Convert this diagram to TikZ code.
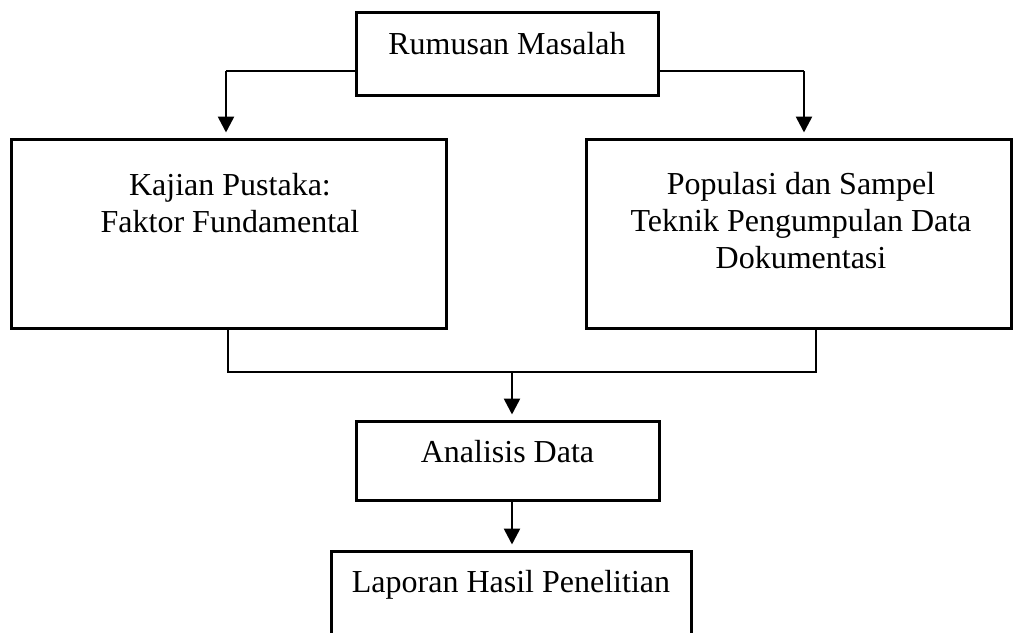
\documentclass[tikz,border=0pt]{standalone}
\usepackage{fontspec}
\setmainfont{Liberation Serif}
\usetikzlibrary{arrows.meta}

\begin{document}
\begin{tikzpicture}[x=0.5pt,y=-0.5pt,
	box/.style={draw,line width=1.5pt,rectangle,inner sep=0pt},
	txt/.style={font=\fontsize{16}{18.5}\selectfont,align=center,inner sep=0pt,anchor=base},
	link/.style={line width=0.7pt},
	arr/.style={line width=1.3pt,-{Triangle[length=8pt,width=8pt]},shorten >=2.5pt}]

	\path[use as bounding box,clip] (0,0) rectangle (1014,633);

	\node[box,minimum width=151pt,minimum height=41.5pt] (rumusan) at (507,53.5) {};
	\node[box,minimum width=217.5pt,minimum height=94.5pt] (kajian) at (228.5,233.5) {};
	\node[box,minimum width=212.5pt,minimum height=94.5pt] (populasi) at (798.5,233.5) {};
	\node[box,minimum width=151.5pt,minimum height=39.5pt] (analisis) at (507.5,460.5) {};
	\node[box,minimum width=180pt,minimum height=50pt] (laporan) at (511,601) {};

	% base of a multi-line node is its last line
	\node[txt] (rumusan-txt) at (507,54) {Rumusan Masalah};
	\node[txt] (kajian-txt) at (230,232) {Kajian Pustaka:\\Faktor Fundamental};
	\node[txt] (populasi-txt) at (801,268) {Populasi dan Sampel\\Teknik Pengumpulan Data\\Dokumentasi};
	\node[txt] (analisis-txt) at (507.5,462) {Analisis Data};
	\node[txt] (laporan-txt) at (511,592) {Laporan Hasil Penelitian};

	\coordinate (lbend) at (226,71);
	\coordinate (rbend) at (804,71);
	\draw[link] (rumusan.west |- lbend) -- (lbend);
	\draw[arr] (lbend) -- (kajian.north -| lbend);
	\draw[link] (rumusan.east |- rbend) -- (rbend);
	\draw[arr] (rbend) -- (populasi.north -| rbend);

	\coordinate (lfoot) at (228,372);
	\coordinate (rfoot) at (816,372);
	\coordinate (merge) at (512,372);
	\draw[link] (kajian.south -| lfoot) -- (lfoot) -- (rfoot) -- (populasi.south -| rfoot);
	\draw[arr] (merge) -- (analisis.north -| merge);
	\draw[arr] (analisis.south -| merge) -- (laporan.north -| merge);
%	\draw[arr] (merge) -- (laporan.north -| merge);
\end{tikzpicture}
\end{document}
